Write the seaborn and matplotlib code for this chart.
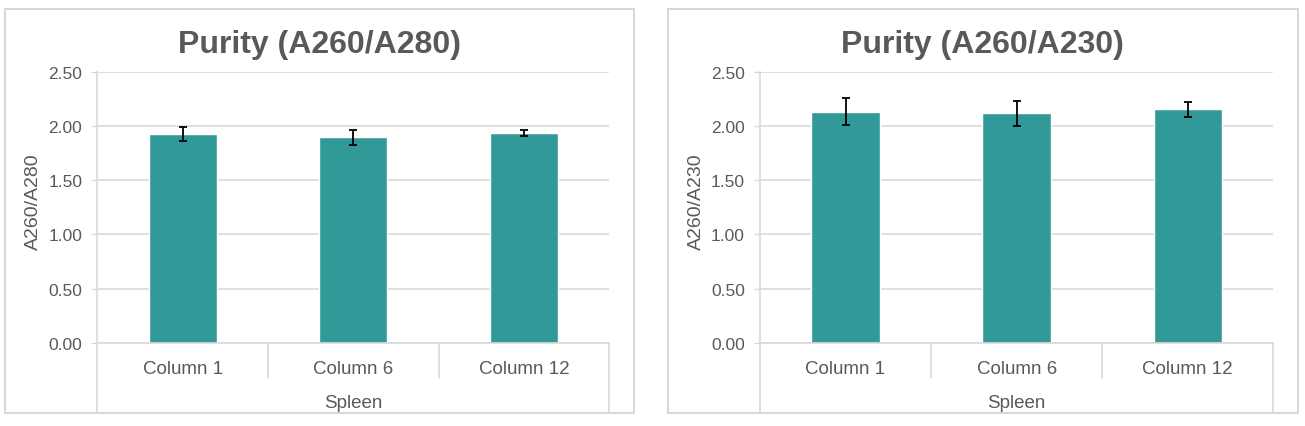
import matplotlib
matplotlib.use("Agg")
import matplotlib.pyplot as plt
from matplotlib.patches import Rectangle
import matplotlib.transforms as mtransforms
import seaborn as sns
import pandas as pd

# ---- data ----
categories = ["Column 1", "Column 6", "Column 12"]
group_label = "Spleen"
a280_values = [1.925, 1.897, 1.935]
a280_errors = [0.065, 0.070, 0.030]
a230_values = [2.133, 2.117, 2.156]
a230_errors = [0.128, 0.117, 0.069]
titles = ["Purity (A260/A280)", "Purity (A260/A230)"]
ylabels = ["A260/A280", "A260/A230"]
yticks = [0.0, 0.5, 1.0, 1.5, 2.0, 2.5]

sns.set_theme(style="white")
plt.rcParams["font.family"] = ["Liberation Sans", "DejaVu Sans"]

TEAL = "#319A99"
GRID = "#D9D9D9"
TXT = "#595959"

W, H = 1305, 427
fig = plt.figure(figsize=(W / 100, H / 100), dpi=100)

panels = [
    dict(box=(5.5, 634.0), ax=(97.3, 609.3), vals=a280_values, errs=a280_errors),
    dict(box=(667.5, 1297.7), ax=(760.0, 1273.3), vals=a230_values, errs=a230_errors),
]
plot_top, plot_bot = 72.7, 344.0
box_top, box_bot = 10.0, 413.5

for i, p in enumerate(panels):
    # panel frame
    bx0, bx1 = p["box"]
    fig.add_artist(Rectangle((bx0 / W, 1 - box_bot / H), (bx1 - bx0) / W,
                             (box_bot - box_top) / H, transform=fig.transFigure,
                             fill=False, ec=GRID, lw=1.5))
    ax0, ax1 = p["ax"]
    ax = fig.add_axes([ax0 / W, 1 - plot_bot / H, (ax1 - ax0) / W,
                       (plot_bot - plot_top) / H])
    df = pd.DataFrame({"cat": categories, "val": p["vals"]})
    sns.barplot(data=df, x="cat", y="val", color=TEAL, saturation=1,
                width=0.4, errorbar=None, ax=ax, zorder=2)
    ax.errorbar(range(len(categories)), p["vals"], yerr=p["errs"], fmt="none",
                ecolor="black", elinewidth=1.3, capsize=2.7, capthick=1.3, zorder=3)
    ax.set_ylim(0, 2.5)
    ax.set_xlim(-0.5, len(categories) - 0.5)
    ax.set_yticks(yticks)
    ax.set_yticklabels([f"{t:.2f}" for t in yticks])
    ax.yaxis.grid(True, color=GRID, lw=1.2, zorder=0)
    ax.set_axisbelow(True)
    for s in ["top", "right"]:
        ax.spines[s].set_visible(False)
    for s in ["left", "bottom"]:
        ax.spines[s].set_color(GRID)
        ax.spines[s].set_linewidth(1.2)
    ax.tick_params(axis="y", length=4.3, width=0.9, color=GRID, pad=6.5,
                   labelsize=12.5, labelcolor=TXT, left=True)
    ax.tick_params(axis="x", length=0, pad=12.5, labelsize=13.5, labelcolor=TXT)
    ax.set_ylabel(ylabels[i], fontsize=14, color=TXT, va="center")
    ax.yaxis.set_label_coords(-0.124, (plot_bot - 201.5) / (plot_bot - plot_top))
    ax.set_xlabel(group_label, fontsize=13.5, color=TXT, va="baseline")
    ax.xaxis.set_label_coords(0.5, (plot_bot - 408) / (plot_bot - plot_top))

    # multi-level category axis lines
    trans = mtransforms.blended_transform_factory(ax.transData, ax.transAxes)
    low_sep = (plot_bot - 379) / (plot_bot - plot_top)
    low_out = (plot_bot - box_bot) / (plot_bot - plot_top)
    n = len(categories)
    for k in range(1, n):
        ax.plot([k - 0.5, k - 0.5], [0, low_sep], color=GRID, lw=1.2,
                transform=trans, clip_on=False)
    for xx in [-0.5, n - 0.5]:
        ax.plot([xx, xx], [0, low_out], color=GRID, lw=1.2,
                transform=trans, clip_on=False)

    fig.text((bx0 + bx1) / 2 / W, 1 - 53 / H, titles[i], ha="center",
             va="baseline", fontsize=23, fontweight="bold", color=TXT)

fig.savefig("out.png", dpi=100)
